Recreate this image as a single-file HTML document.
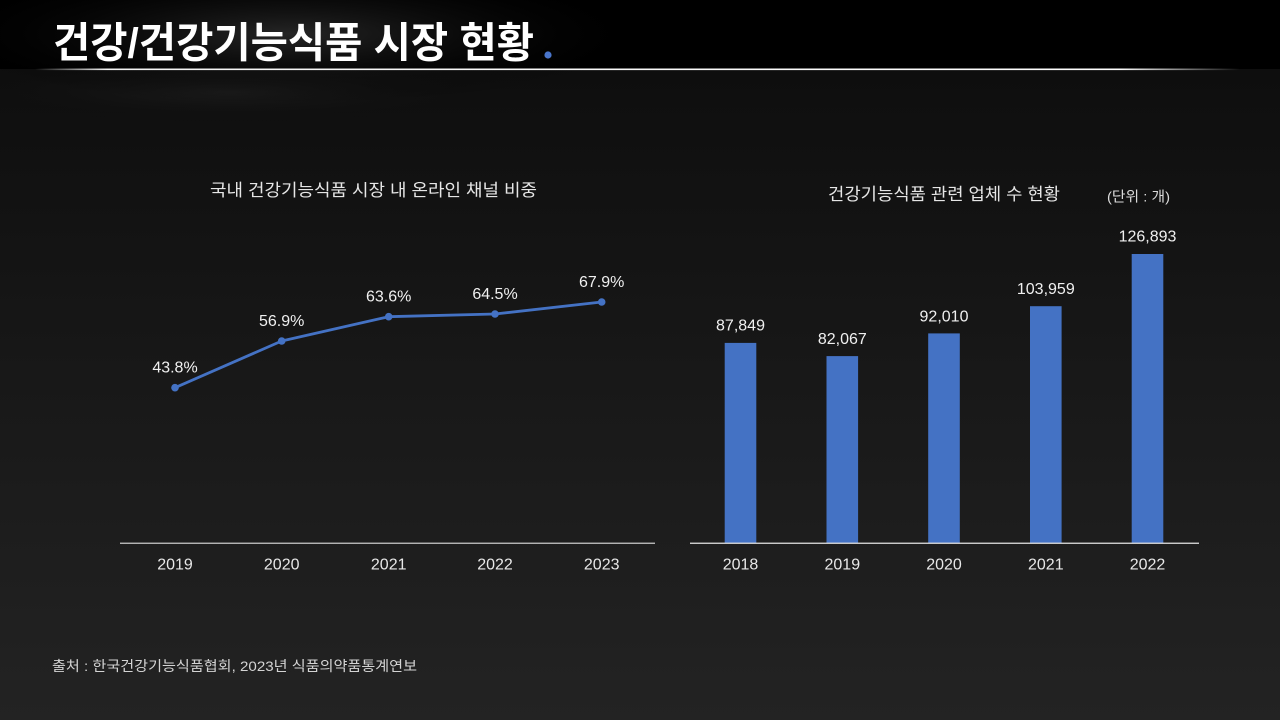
<!DOCTYPE html>
<html>
<head>
<meta charset="utf-8">
<style>
  html, body { margin: 0; padding: 0; background: #000; }
  svg { display: block; }
  .kr { font-family: "Liberation Sans", "Noto Sans CJK KR", sans-serif; }
  .lat { font-family: "Liberation Sans", sans-serif; }
</style>
</head>
<body>
<svg width="1280" height="720" viewBox="0 0 1280 720" xmlns="http://www.w3.org/2000/svg">
  <defs>
    <linearGradient id="bg" x1="0" y1="0" x2="0" y2="1">
      <stop offset="0" stop-color="#0e0e0e"/>
      <stop offset="1" stop-color="#232323"/>
    </linearGradient>
    <radialGradient id="glow" cx="0.5" cy="0.5" r="0.5">
      <stop offset="0" stop-color="#262626"/>
      <stop offset="1" stop-color="#000000" stop-opacity="0"/>
    </radialGradient>
    <radialGradient id="glow2" cx="0.5" cy="0.5" r="0.5">
      <stop offset="0" stop-color="#1c1c1c"/>
      <stop offset="1" stop-color="#0e0e0e" stop-opacity="0"/>
    </radialGradient>
    <linearGradient id="hline" x1="0" y1="0" x2="1" y2="0">
      <stop offset="0" stop-color="#ffffff" stop-opacity="0"/>
      <stop offset="0.06" stop-color="#ffffff" stop-opacity="0.95"/>
      <stop offset="0.9" stop-color="#ffffff" stop-opacity="1"/>
      <stop offset="1" stop-color="#ffffff" stop-opacity="0"/>
    </linearGradient>
  </defs>

  <!-- background -->
  <rect x="0" y="68" width="1280" height="652" fill="url(#bg)"/>
  <ellipse cx="230" cy="92" rx="260" ry="30" fill="url(#glow2)"/>
  <rect x="0" y="0" width="1280" height="68" fill="#000"/>
  <ellipse cx="290" cy="34" rx="360" ry="70" fill="url(#glow)"/>
  <rect x="0" y="68" width="1280" height="1" fill="#000"/>

  <!-- header line -->
  <rect x="35" y="68.5" width="1205" height="1.6" fill="url(#hline)"/>

  <!-- title -->
  <text class="kr" x="53" y="57.5" font-size="42" font-weight="bold" fill="#ffffff"
        textLength="481" lengthAdjust="spacingAndGlyphs">건강/건강기능식품 시장 현황</text>
  <circle cx="548" cy="55" r="3.6" fill="#4a76cc"/>

  <!-- ===== Left chart: line ===== -->
  <text class="kr" x="373.5" y="196" font-size="17" fill="#e6e6e6" text-anchor="middle"
        textLength="327" lengthAdjust="spacingAndGlyphs">국내 건강기능식품 시장 내 온라인 채널 비중</text>

  <rect x="120" y="542.6" width="535" height="1.3" fill="#c4c4c4"/>

  <polyline points="175,387.7 281.7,341 388.7,316.7 495,314 601.7,302"
            fill="none" stroke="#4472c4" stroke-width="2.8" stroke-linejoin="round"/>
  <g fill="#4472c4">
    <circle cx="175" cy="387.7" r="3.8"/>
    <circle cx="281.7" cy="341" r="3.8"/>
    <circle cx="388.7" cy="316.7" r="3.8"/>
    <circle cx="495" cy="314" r="3.8"/>
    <circle cx="601.7" cy="302" r="3.8"/>
  </g>
  <g class="lat" font-size="16" fill="#f0f0f0" text-anchor="middle">
    <text x="175" y="372.7">43.8%</text>
    <text x="281.7" y="326">56.9%</text>
    <text x="388.7" y="301.7">63.6%</text>
    <text x="495" y="299">64.5%</text>
    <text x="601.7" y="287">67.9%</text>
  </g>
  <g class="lat" font-size="16" fill="#e8e8e8" text-anchor="middle">
    <text x="175" y="569.3">2019</text>
    <text x="281.7" y="569.3">2020</text>
    <text x="388.7" y="569.3">2021</text>
    <text x="495" y="569.3">2022</text>
    <text x="601.7" y="569.3">2023</text>
  </g>

  <!-- ===== Right chart: bars ===== -->
  <text class="kr" x="944" y="200" font-size="17" fill="#e6e6e6" text-anchor="middle"
        textLength="232" lengthAdjust="spacingAndGlyphs">건강기능식품 관련 업체 수 현황</text>
  <text class="kr" x="1138.5" y="201.5" font-size="14" fill="#dcdcdc" text-anchor="middle"
        textLength="63" lengthAdjust="spacingAndGlyphs">(단위 : 개)</text>

  <g fill="#4472c4">
    <rect x="724.7" y="342.9" width="31.6" height="200.1"/>
    <rect x="826.5" y="356.1" width="31.6" height="186.9"/>
    <rect x="928.2" y="333.4" width="31.6" height="209.6"/>
    <rect x="1030" y="306.2" width="31.6" height="236.8"/>
    <rect x="1131.7" y="254" width="31.6" height="289"/>
  </g>
  <rect x="690" y="542.6" width="509" height="1.3" fill="#dedede"/>

  <g class="lat" font-size="16" fill="#f0f0f0" text-anchor="middle">
    <text x="740.5" y="330.7">87,849</text>
    <text x="842.3" y="344">82,067</text>
    <text x="944" y="321.3">92,010</text>
    <text x="1045.8" y="294">103,959</text>
    <text x="1147.5" y="241.7">126,893</text>
  </g>
  <g class="lat" font-size="16" fill="#e8e8e8" text-anchor="middle">
    <text x="740.5" y="569.3">2018</text>
    <text x="842.3" y="569.3">2019</text>
    <text x="944" y="569.3">2020</text>
    <text x="1045.8" y="569.3">2021</text>
    <text x="1147.5" y="569.3">2022</text>
  </g>

  <!-- footer -->
  <text class="kr" x="52" y="671" font-size="14" fill="#d4d4d4"
        textLength="365" lengthAdjust="spacingAndGlyphs">출처 : 한국건강기능식품협회, 2023년 식품의약품통계연보</text>
</svg>
</body>
</html>
